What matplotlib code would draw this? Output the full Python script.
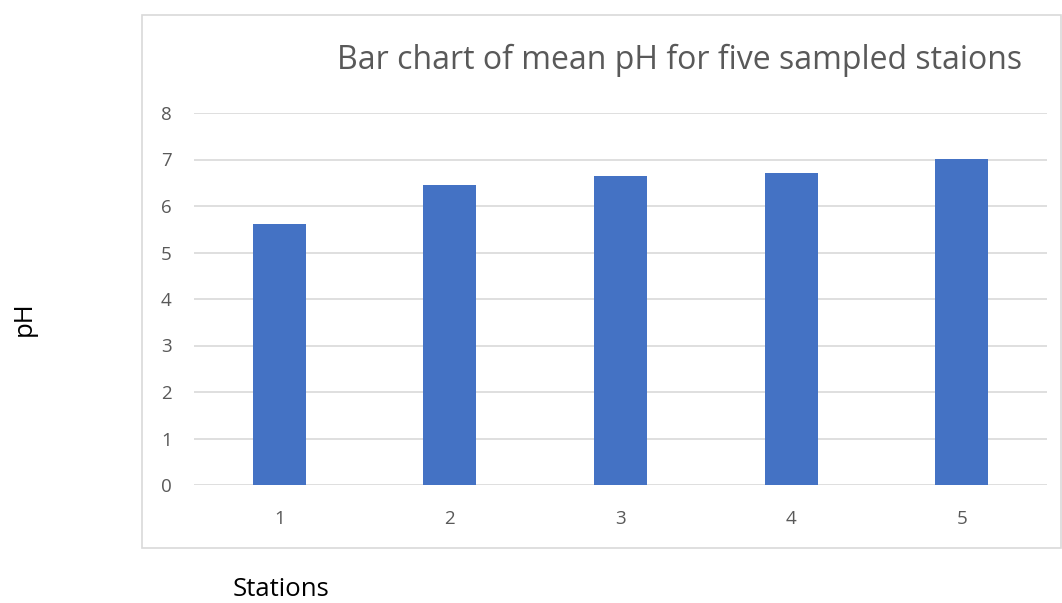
import matplotlib.pyplot as plt
from matplotlib.patches import Rectangle

# Mean pH per sampled station
stations = ["1", "2", "3", "4", "5"]
mean_ph = [5.62, 6.45, 6.65, 6.72, 7.02]
yticks = [0, 1, 2, 3, 4, 5, 6, 7, 8]

plt.rcParams['font.family'] = ['Open Sans', 'DejaVu Sans']

W, H = 1062, 603
fig = plt.figure(figsize=(W / 100, H / 100), dpi=100)

# chart-area frame
fig.patches.append(Rectangle((142 / W, 1 - 548 / H), (1061 - 142) / W, (548 - 15) / H,
                             transform=fig.transFigure, fill=False,
                             edgecolor='#d9d9d9', linewidth=1.2))

ax = fig.add_axes([194 / W, 1 - 485 / H, (1047 - 194) / W, (485 - 113) / H])
x = range(len(stations))
ax.bar(x, mean_ph, width=0.31, color='#4472c4', zorder=3)

ax.set_xlim(-0.5, len(stations) - 0.5)
ax.set_ylim(0, 8)
ax.set_yticks(yticks)
ax.set_xticks(list(x))
ax.set_xticklabels(stations)
ax.grid(axis='y', color='#d9d9d9', linewidth=1.2, zorder=0)
for s in ax.spines.values():
    s.set_visible(False)
ax.tick_params(length=0, labelsize=13.5, colors='#595959')
ax.tick_params(axis='x', pad=18)
ax.tick_params(axis='y', pad=16)

fig.text(680 / W, 1 - 69 / H, "Bar chart of mean pH for five sampled staions",
         ha='center', va='baseline', fontsize=23, color='#595959')
fig.text(24 / W, 1 - 319 / H, "pH", rotation=90, ha='center', va='center', fontsize=18.5)
fig.text(281 / W, 1 - 596 / H, "Stations", ha='center', va='baseline', fontsize=18.5)

fig.savefig("out.png", dpi=100)
